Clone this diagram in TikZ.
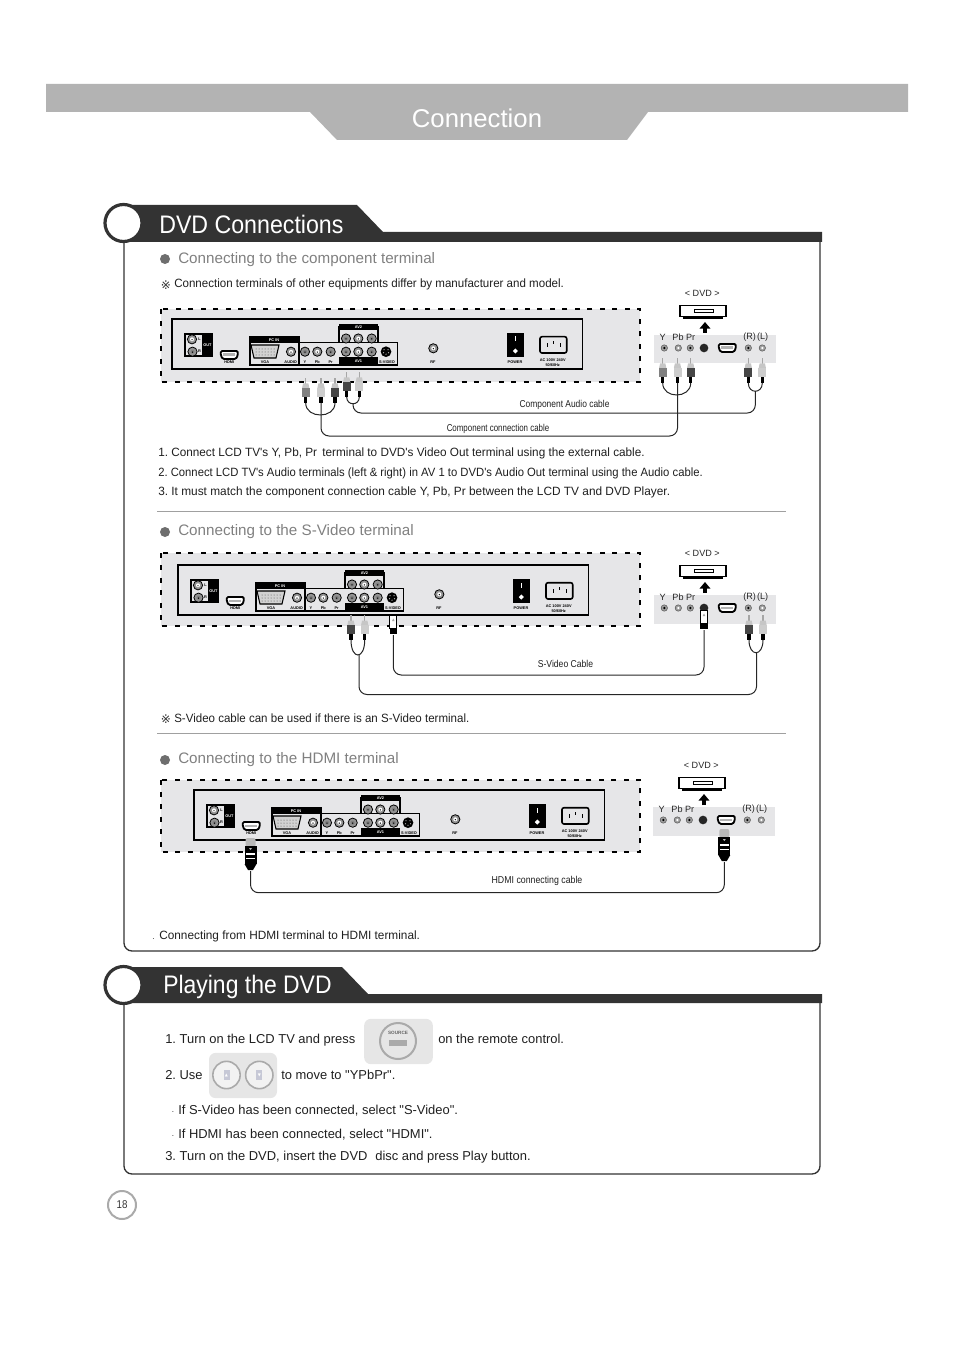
\documentclass[tikz,border=0pt]{standalone}
\usepackage{fontspec}
\setmainfont{Liberation Sans}
\newfontfamily\plainfont{Liberation Sans}
\newfontfamily\symfont{DejaVu Sans}
\newfontfamily\narrowfont[FakeStretch=0.86]{Liberation Sans}
\newfontfamily\headfont[FakeStretch=0.915]{Liberation Sans}
\usetikzlibrary{arrows.meta,positioning,shapes.geometric,calc}
\definecolor{bargray}{RGB}{179,179,179}
\definecolor{headdark}{RGB}{51,51,51}
\definecolor{subgray}{RGB}{128,128,128}
\definecolor{bulletgray}{RGB}{110,110,110}
\definecolor{panelgray}{RGB}{230,230,232}
\definecolor{rulegray}{RGB}{160,160,160}
\definecolor{btngray}{RGB}{230,230,230}
\definecolor{ringgray}{RGB}{170,170,170}
\definecolor{keylilac}{RGB}{198,200,214}
\definecolor{plugdark}{RGB}{70,70,70}
\definecolor{pluglight}{RGB}{205,205,205}
\newcommand{\squeeze}[2]{\scalebox{#1}[1]{#2}}
\tikzset{
  bodytext/.style={anchor=base west, inner sep=0pt, text=black!88, font=\plainfont\frenchspacing\fontsize{9}{11}\selectfont},
  playtext/.style={bodytext, font=\plainfont\frenchspacing\fontsize{9.7}{11}\selectfont},
  subtitle/.style={anchor=base west, inner sep=0pt, text=subgray, font=\fontsize{11.4}{14}\selectfont},
  bulletdot/.style={circle, fill=bulletgray, inner sep=0pt, minimum size=7.5pt},
  noticemark/.style={inner sep=0pt, text=black!80, font=\symfont\fontsize{9}{10}\selectfont},
  cablelabel/.style={inner sep=0pt, text=black!88, font=\narrowfont\fontsize{7.5}{9}\selectfont},
  cable/.style={line width=0.75pt, black!85, rounded corners=6pt},
  tinylabel/.style={inner sep=0pt, font=\fontsize{2.9}{3.3}\selectfont\bfseries},
  tinywhite/.style={tinylabel, text=white},
  dvdlabel/.style={inner sep=0pt, text=black!85, font=\fontsize{6.8}{8}\selectfont},
  sectitle/.style={anchor=base west, inner sep=0pt, text=white, font=\headfont\fontsize{19}{22}\selectfont},
  panelbg/.style={line width=1.5pt, dash pattern=on 3.75pt off 5.6pt, fill=panelgray},
  % back panel of the set
  pics/tvpanel/.style={code={
    \draw[line width=1.3pt] (0,0) rectangle (410.5,50);
    % audio out
    \fill[black] (12,14) rectangle (40.7,38);
    \fill[panelgray] (14,16) rectangle (30,36);
    \node[tinylabel] (-l) at (27.5,20.5) {L};
    \node[tinylabel] (-r) at (27.5,32) {R};
    \node[tinywhite] (-out) at (35.5,26) {OUT};
    \pic (-joutl) at (20,20.3) {panjack=white};
    \pic (-joutr) at (20.5,32.7) {panjack=gray};
    % hdmi
    \pic (-hdmi) at (57.3,36) {hdmiport};
    \node[tinylabel] (-lhdmi) at (57.3,43) {HDMI};
    % pc in
    \draw[line width=0.8pt] (78,17.7) rectangle (127,46);
    \fill[black] (78,17.7) rectangle (127,23.7);
    \node[tinywhite] (-pcin) at (102,20.7) {PC IN};
    \draw[line width=0.8pt, fill=gray!35] (79,26) -- (107,26) -- (104,39) -- (82,39) -- cycle;
    \foreach \x in {84,87,90,93,96,99,102}{\fill[black!70] (\x,30) circle (0.5);\fill[black!70] (\x,33) circle (0.5);\fill[black!70] (\x,36) circle (0.5);}
    \node[tinylabel] (-lvga) at (93,43) {VGA};
    \pic (-jaudio) at (119,32.7) {panjack=white};
    \node[tinylabel] (-laudio) at (118.7,43) {AUDIO};
    % av1 with the component row
    \draw[line width=1.1pt] (127,23.7) rectangle (225.7,46);
    \fill[black] (167,38.3) rectangle (206.3,46);
    \node[tinywhite] (-av1) at (186.5,42) {AV1};
    \foreach \n/\x/\t/\c in {y/133/Y/gray,pb/145.3/Pb/white,pr/158.7/Pr/gray}{
      \pic (-j\n) at (\x,32.7) {panjack=\c};
      \node[tinylabel] (-l\n) at (\x,43) {\t};
    }
    \foreach \n/\x/\c in {v/174/gray,a/186.3/white,b/199.7/gray}{
      \pic (-ja\n) at (\x,32.7) {panjack=\c};
    }
    \node[circle, fill=black, inner sep=0pt, minimum size=8pt] (-svid) at (214,32.7) {};
    \foreach \dx/\dy in {-2/-2,2/-2,-2.5/1,2.5/1,0/2.5}{\fill[gray!60] (214+\dx,32.7+\dy) circle (0.7);}
    \node[tinylabel] (-lsvid) at (215,43) {S-VIDEO};
    % av2
    \draw[line width=0.8pt] (167,8) rectangle (206,23.7);
    \fill[black] (167,5) rectangle (206,11);
    \node[tinywhite] (-av2) at (186.5,8) {AV2};
    \foreach \n/\x/\c in {v/174/gray,a/186.3/white,b/199.7/gray}{
      \pic (-jb\n) at (\x,19.5) {panjack=\c};
    }
    % rf, power, ac
    \pic (-jrf) at (261.3,29.3) {panjack=white};
    \node[tinylabel] (-lrf) at (261,43) {RF};
    \fill[black] (334.7,14) rectangle (352,38);
    \fill[white] (342.8,17.5) rectangle (343.8,22.5);
    \node[diamond, fill=white, inner sep=0pt, minimum size=4pt] (-pwr) at (343.3,32) {};
    \node[tinylabel] (-lpwr) at (343,43) {POWER};
    \draw[line width=1.2pt, rounded corners=1.5pt, fill=panelgray] (368,17.7) rectangle (394.7,34);
    \foreach \x in {375,388}{\fill[black] (\x-0.5,24) rectangle (\x+0.5,28);}
    \fill[black] (380.8,22) rectangle (381.8,25);
    \node[tinylabel, align=center] (-lac) at (380.7,43.5) {AC 100V~240V\\50/60Hz};
  }},
  pics/panjack/.style={code={
    \draw[line width=0.6pt, fill=gray!85] (0,0) circle (4.6);
    \fill[#1] (0,0) circle (2);
    \fill[black] (0,0.4) circle (0.7);
  }},
  pics/smalljack/.style={code={
    \draw[line width=0.4pt, gray!70!black, fill=gray!75] (0,0) circle (3.2);
    \fill[#1] (0,0) circle (1.3);
  }},
  pics/hdmiport/.style={code={
    \draw[line width=1.4pt, fill=white, rounded corners=1pt] (-8.5,-4) -- (8.5,-4) -- (8.5,0.5) -- (6.5,4) -- (-6.5,4) -- (-8.5,0.5) -- cycle;
    \fill[gray!60] (-6,-1.5) rectangle (6,1);
  }},
  % dvd rear strip with the player above it
  pics/dvdrear/.style={code={
    \fill[panelgray] (0,0) rectangle (122,28.5);
    \foreach \n/\x/\t in {y/8.7/Y,pb/24/Pb,pr/36.7/Pr,r/95.7/(R),l/108.7/(L)}{
      \node[dvdlabel] (-t\n) at (\x,2) {\t};
    }
    \pic (-jy) at (10.3,13) {smalljack=black};
    \pic (-jpb) at (24.3,13) {smalljack=white};
    \pic (-jpr) at (36.3,13) {smalljack=black};
    \node[circle, fill=black!85, inner sep=0pt, minimum size=6.5pt] (-jsv) at (50,13) {};
    \pic (-hdmi) at (73.3,13) {hdmiport};
    \pic (-jr) at (94.3,13) {smalljack=black};
    \pic (-jl) at (108.3,13) {smalljack=white};
    \node[dvdlabel] (-name) at (48.3,-41.5) {< DVD >};
    \draw[line width=1pt, fill=white] (26,-29.2) rectangle (72,-18.5);
    \fill[black] (29,-18.5) rectangle (69,-16);
    \draw[line width=0.6pt] (40,-26) rectangle (59,-23);
    \coordinate (-arrfrom) at (51,-2);
    \coordinate (-arrto) at (51,-13);
    \draw[-{Stealth[length=5pt,width=8pt,inset=0pt]}, line width=3pt] (-arrfrom) -- (-arrto);
  }},
  % rca plug, tail end is the cable end
  pics/rcaplug/.style={code={
    \fill[gray!70] (-0.7,0) rectangle (0.7,6);
    \fill[gray!45] (-2.7,5.5) -- (2.7,5.5) -- (3.6,10) -- (-3.6,10) -- cycle;
    \fill[#1] (-4,10) rectangle (4,19);
    \fill[black] (-1.7,19) rectangle (1.7,25);
    \coordinate (-tail) at (0,25);
  }},
  pics/svidplug/.style={code={
    \draw[line width=0.7pt, fill=white] (-3.6,0) rectangle (3.6,13);
    \fill[gray!70] (-1.3,6) -- (1.3,6) -- (0,3.5) -- cycle;
    \fill[black] (-3.8,13) rectangle (3.8,19);
    \coordinate (-tail) at (0,20);
  }},
  pics/hdmiplug/.style={code={
    \fill[gray!55, rounded corners=1.5pt] (-5,0) rectangle (5,9);
    \fill[black] (-6,8) rectangle (6,26);
    \fill[gray!50] (-1.5,10) -- (1.5,10) -- (0,12) -- cycle;
    \foreach \yy in {15,19.5}{\fill[white] (-4.5,\yy) rectangle (4.5,\yy+1.8);}
    \fill[black] (-6,26) -- (6,26) -- (2.5,32) -- (-2.5,32) -- cycle;
    \coordinate (-tail) at (0,33);
  }},
}
\begin{document}
\begin{tikzpicture}[x=0.75pt,y=-0.75pt]
  \useasboundingbox (0,0) rectangle (954,1351);
  % Top banner
  \fill[bargray] (46,84) -- (908,84) -- (908,112) -- (648,112) -- (627,140) -- (337,140) -- (310,112) -- (46,112) -- cycle;
  \node[inner sep=0pt, text=white, font=\fontsize{19.3}{24}\selectfont] (pagetitle) at (477,118) {Connection};
  % DVD Connections section
  \draw[line width=1pt, headdark, rounded corners=6pt] (124,240) -- (124,951) -- (820,951) -- (820,240);
  \fill[headdark] (124,205) -- (357,205) -- (383,232) -- (822,232) -- (822,242) -- (124,242) -- cycle;
  \draw[line width=2.4pt, headdark, fill=white] (123.5,223) circle (18.5);
  \node[sectitle] (dvdhead) at (159,234) {DVD Connections};
  % Component terminal
  \node[bulletdot] (compdot) at (165,259) {};
  \node[subtitle] (comptitle) at (178,263.5) {Connecting to the component terminal};
  \node[noticemark] (compmark) at (166,285) {※};
  \node[bodytext] (compnote) at (174,288) {\squeeze{.963}{Connection terminals of other equipments differ by manufacturer and model.}};
  \draw[panelbg] (160.5,309) rectangle (640,382);
  \pic (paneltop) at (172,319) {tvpanel};
  \pic (reartop) at (654,335) {dvdrear};
  \pic (cy) at (305.7,378) {rcaplug=gray};
  \pic (cpb) at (321,378) {rcaplug=pluglight};
  \pic (cpr) at (335,378) {rcaplug=plugdark};
  \pic (ar) at (346.7,372) {rcaplug=plugdark};
  \pic (al) at (359.3,372) {rcaplug=pluglight};
  \pic (dy) at (662.7,358) {rcaplug=gray};
  \pic (dpb) at (677.5,358) {rcaplug=pluglight};
  \pic (dpr) at (690.7,358) {rcaplug=plugdark};
  \pic (er) at (748.3,358) {rcaplug=plugdark};
  \pic (el) at (762.3,358) {rcaplug=pluglight};
  \draw[cable] (cy-tail) .. controls +(0,16) and +(0,16) .. (cpr-tail);
  \draw[cable] (dy-tail) .. controls +(0,16) and +(0,16) .. (dpr-tail);
  \coordinate (compbus) at (500,436);
  \draw[cable] (cpb-tail) |- (compbus) -| (dpb-tail);
  \draw[cable] (ar-tail) .. controls +(0,9) and +(0,9) .. (al-tail);
  \draw[cable] (er-tail) .. controls +(0,11) and +(0,11) .. (el-tail);
  \coordinate (audleft) at (353,403);
  \coordinate (audright) at (755.3,391);
  \coordinate (audbus) at (560,413);
  \draw[cable] (audleft) |- (audbus) -| (audright);
  \node[cablelabel] (audlabel) at (564.5,405) {\squeeze{.98}{Component Audio cable}};
  \node[cablelabel] (complabel) at (498,429) {\squeeze{.92}{Component connection cable}};
  \node[bodytext] (compone) at (158,456) {\squeeze{.98}{1. Connect LCD TV's Y, Pb, Pr\, terminal to DVD's Video Out terminal using the external cable.}};
  \node[bodytext] (comptwo) at (158,476) {\squeeze{.94}{2. Connect LCD TV's Audio terminals (left \& right) in AV 1 to DVD's Audio Out terminal using the Audio cable.}};
  \node[bodytext] (compthree) at (158,495) {\squeeze{.988}{3. It must match the component connection cable Y, Pb, Pr between the LCD TV and DVD Player.}};
  \draw[line width=0.75pt, rulegray] (157,511) -- (786,511);
  % S-Video terminal
  \node[bulletdot] (svdot) at (165,532) {};
  \node[subtitle] (svtitle) at (178,535.5) {Connecting to the S-Video terminal};
  \draw[panelbg] (160.5,553) rectangle (640,626);
  \pic (panelmid) at (178,565) {tvpanel};
  \pic (rearmid) at (654,595) {dvdrear};
  \pic (sr) at (351,615) {rcaplug=plugdark};
  \pic (sl) at (364.7,615) {rcaplug=pluglight};
  \pic (sv) at (393.3,615) {svidplug};
  \pic (tv) at (704,610) {svidplug};
  \pic (tr) at (749,615) {rcaplug=plugdark};
  \pic (tl) at (763,615) {rcaplug=pluglight};
  \draw[cable] (sr-tail) .. controls +(0,20) and +(0,20) .. (sl-tail);
  \draw[cable] (tr-tail) .. controls +(0,17) and +(0,17) .. (tl-tail);
  \coordinate (svbus) at (560,675);
  \draw[cable] (sv-tail) |- (svbus) -| (tv-tail);
  \coordinate (sjoin) at (359,655);
  \coordinate (tjoin) at (756.5,653);
  \coordinate (sabus) at (560,694.5);
  \draw[cable] (sjoin) |- (sabus) -| (tjoin);
  \node[cablelabel] (svlabel) at (565.5,663.5) {S-Video Cable};
  \node[noticemark] (svmark) at (166,719.5) {※};
  \node[bodytext] (svnote) at (174,722) {\squeeze{.961}{S-Video cable can be used if there is an S-Video terminal.}};
  \draw[line width=0.75pt, rulegray] (157,733) -- (786,733);
  % HDMI terminal
  \node[bulletdot] (hdmidot) at (165,760) {};
  \node[subtitle] (hdmititle) at (178,763.5) {Connecting to the HDMI terminal};
  \draw[panelbg] (160.5,779.5) rectangle (640,852);
  \pic (panellow) at (194,790) {tvpanel};
  \pic (rearlow) at (653,807) {dvdrear};
  \pic (hl) at (250.5,838) {hdmiplug};
  \pic (hr) at (724.3,829) {hdmiplug};
  \coordinate (hbus) at (500,892.7);
  \draw[cable] (hl-tail) |- (hbus) -| (hr-tail);
  \node[cablelabel] (hdmilabel) at (537,881) {\squeeze{1.02}{HDMI connecting cable}};
  \node[bodytext, font=\fontsize{6}{7}\selectfont] (hdmidotmark) at (152,939) {.};
  \node[bodytext] (hdminote) at (159,939) {\squeeze{.985}{Connecting from HDMI terminal to HDMI terminal.}};
  % Playing the DVD section
  \draw[line width=1pt, headdark, rounded corners=6pt] (124,1000) -- (124,1174) -- (820,1174) -- (820,1000);
  \fill[headdark] (124,967) -- (342,967) -- (368,994) -- (822,994) -- (822,1003) -- (124,1003) -- cycle;
  \draw[line width=2.4pt, headdark, fill=white] (123.5,985) circle (18.5);
  \node[sectitle] (playhead) at (163,993) {\squeeze{.99}{Playing the DVD}};
  \node[playtext] (playone) at (165,1043) {1. Turn on the LCD TV and press};
  \node[fill=btngray, rounded corners=5pt, minimum width=51.5pt, minimum height=34pt, inner sep=0pt] (srcbtn) at (398.5,1041.5) {};
  \node[circle, draw=ringgray, line width=1.5pt, inner sep=0pt, minimum size=27pt] (srcring) at (398,1041) {};
  \node[inner sep=0pt, text=gray!80!black, font=\fontsize{3.5}{4}\selectfont\bfseries] (srctext) at (398,1033) {SOURCE};
  \node[fill=ringgray, inner sep=0pt, minimum width=13.5pt, minimum height=4pt] (srckey) at (398,1043) {};
  \node[playtext] (playoneb) at (438,1043) {on the remote control.};
  \node[playtext] (playtwo) at (165,1079) {2. Use};
  \node[fill=btngray, rounded corners=5pt, minimum width=51pt, minimum height=34pt, inner sep=0pt] (arrbtn) at (243,1075.5) {};
  \foreach \n/\x/\s in {up/226.5/\symfont▲,down/259.3/\symfont▼}{
    \node[circle, draw=ringgray, fill=white!50!btngray, line width=1.2pt, inner sep=0pt, minimum size=20.5pt] (ring\n) at (\x,1075) {};
    \node[fill=keylilac, inner sep=0pt, minimum width=4.5pt, minimum height=8pt, text=white, font=\fontsize{3}{3}\selectfont] (key\n) at (\x,1075) {\s};
  }
  \node[playtext] (playtwob) at (281,1079) {to move to "YPbPr".};
  \node[bodytext, font=\fontsize{6}{7}\selectfont] (svdotb) at (171.5,1112) {.};
  \node[playtext] (playsv) at (178,1114) {If S-Video has been connected, select "S-Video".};
  \node[bodytext, font=\fontsize{6}{7}\selectfont] (hddotb) at (171.5,1136) {.};
  \node[playtext] (playhd) at (178,1138) {If HDMI has been connected, select "HDMI".};
  \node[playtext] (playthree) at (165,1160) {3. Turn on the DVD, insert the DVD\, \,disc and press Play button.};
  % Page number
  \node[circle, draw=ringgray, line width=1.5pt, inner sep=0pt, minimum size=21pt, font=\narrowfont\fontsize{8.5}{10}\selectfont, text=black!80] (pagenum) at (122,1205) {18};
\end{tikzpicture}
\end{document}
